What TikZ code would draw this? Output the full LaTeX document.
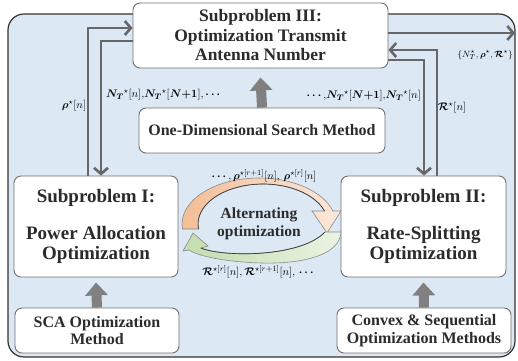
\documentclass[tikz,border=0pt]{standalone}
\usepackage{amsmath}
\usepackage{fontspec}
\setmainfont{Liberation Serif}
\usetikzlibrary{arrows.meta,calc}

\definecolor{bgblue}{HTML}{DDE8F5}
\definecolor{bgedge}{HTML}{333333}
\definecolor{edgegray}{HTML}{707070}
\definecolor{conngray}{HTML}{676767}
\definecolor{blockgray}{HTML}{808080}
\definecolor{txt}{HTML}{2B2B2B}
\definecolor{orangeA}{HTML}{F3BC95}
\definecolor{orangeB}{HTML}{FCE8DA}
\definecolor{greenA}{HTML}{C2DDAD}
\definecolor{greenB}{HTML}{EBF3E3}
\definecolor{loopedge}{HTML}{8A8A8A}
\definecolor{loopinner}{HTML}{3C3C3C}

% bold symbols used in the labels
\newcommand{\vrho}{\boldsymbol{\rho}}
\newcommand{\vR}{\boldsymbol{\mathcal{R}}}
\newcommand{\vN}{\boldsymbol{N_{T}}}

\begin{document}
\begin{tikzpicture}[x=1pt,y=-1pt,
  box/.style={draw=edgegray, line width=0.9pt, fill=white, rounded corners=7pt,
    align=center, text=txt, inner sep=0pt},
  conn/.style={draw=conngray, line width=2.6pt,
    -{Straight Barb[length=6pt,width=14pt]}},
  blockarrow/.style={draw=blockgray, line width=10pt,
    -{Triangle[length=13pt,width=22pt]}},
  lab/.style={text=black, inner sep=0pt, font=\fontsize{11}{12}\selectfont},
  bandedge/.style={draw=loopedge, line width=0.6pt},
  innerline/.style={draw=loopinner, line width=0.7pt}
]
\useasboundingbox (0,0) rectangle (518,360);

% background panel
\draw[fill=bgblue, draw=bgedge, line width=1.2pt, rounded corners=16pt]
  (8,14) rectangle (515,357);

% boxes
\node[box, minimum width=255pt, minimum height=65pt,
  font=\bfseries\fontsize{17.5}{19.5}\selectfont] (t3) at (260.5,35.5)
  {Subproblem III:\\Optimization Transmit\\Antenna Number};
\node[box, minimum width=246pt, minimum height=45pt,
  font=\bfseries\fontsize{16}{18}\selectfont] (od) at (262,130.5)
  {One-Dimensional Search Method};
\node[box, minimum width=164pt, minimum height=101pt,
  font=\bfseries\fontsize{19}{20}\selectfont] (s1) at (96,226.5)
  {Subproblem I:\\[17pt]Power Allocation\\Optimization};
\node[box, minimum width=165pt, minimum height=101pt,
  font=\bfseries\fontsize{19}{20}\selectfont] (s2) at (423.5,226.5)
  {Subproblem II:\\[17pt]Rate-Splitting\\Optimization};
\node[box, minimum width=164pt, minimum height=45pt,
  font=\bfseries\fontsize{16}{17.5}\selectfont] (sca) at (97,330.5)
  {SCA Optimization\\Method};
\node[box, minimum width=174pt, minimum height=45pt,
  font=\bfseries\fontsize{16}{17.5}\selectfont] (cvx) at (424,330.5)
  {Convex \& Sequential\\Optimization Methods};

% method arrows
\draw[blockarrow] (od.north) -- ($(t3.south)+(0,9)$);
\draw[blockarrow] (sca.north) -- ($(s1.south)+(0,5)$);
\draw[blockarrow] (cvx.north) -- ($(s2.south)+(0,5)$);

% bend points of the connectors
\coordinate (l1) at (88,28);
\coordinate (l2) at (101,41);
\coordinate (r0) at (515,33);
\coordinate (r1) at (437,50);
\coordinate (r2) at (424,60);

% connectors between the subproblems
\draw[conn] (s1.north -| l1) |- (t3.west |- l1);
\draw[conn] (t3.west |- l2) -| (s1.north -| l2);
\draw[conn] (t3.east |- r0) -- (r0);
\draw[conn] (s2.north -| r1) |- (t3.east |- r1);
\draw[conn] (t3.east |- r2) -| (s2.north -| r2);

% connector labels
\node[lab] (lrho) at (74,106) {$\vrho^{\star}[n]$};
\node[lab, anchor=west] (lnl) at (106,95)
  {$\vN^{\star}[n]{,}\vN^{\star}[\boldsymbol{N{+}1}],\boldsymbol{\cdots}$};
\node[lab, anchor=east] (lnr) at (421,96)
  {$\boldsymbol{\cdots}{,}\vN^{\star}[\boldsymbol{N{+}1}]{,}\vN^{\star}[n]$};
\node[lab] (lR) at (452,108) {$\vR^{\star}[n]$};
\node[lab, font=\fontsize{9.5}{11}\selectfont, anchor=east] (lout) at (513,55)
  {$\{N_{T}^{\star},\vrho^{\star},\vR^{\star}\}$};

% alternating optimization loop: upper (orange) arrow
\path[bandedge, left color=orangeA, right color=orangeB]
  (182.45,228.97) arc[start angle=173.8, end angle=343.6, x radius=77, y radius=46]
  -- (341,211) -- (327,233) -- (312,211) -- (324.5,211)
  arc[start angle=341, end angle=172.8, x radius=65, y radius=40] -- cycle;
\draw[innerline] (324.5,211)
  arc[start angle=341, end angle=172.8, x radius=65, y radius=40];

% lower (green) arrow
\path[bandedge, left color=greenA, right color=greenB]
  (341,232) .. controls (340,256) and (300,264) .. (262,263)
  .. controls (228,262) and (200,257) .. (189,250)
  -- (183,251) -- (193,233) -- (208,246) -- (201,248)
  .. controls (222,257) and (300,258) .. (325,232) -- cycle;
\draw[innerline] (201,248) .. controls (222,257) and (300,258) .. (325,232);

\node[font=\bfseries\fontsize{15.5}{18}\selectfont, align=center, text=txt]
  (alt) at (259,224) {Alternating\\optimization};

\node[lab] (ltop) at (264,176)
  {$\boldsymbol{\cdots}{,}\,\vrho^{\star[r+1]}[n],\,\vrho^{\star[r]}[n]$};
\node[lab] (lbot) at (259,272)
  {$\vR^{\star[r]}[n],\vR^{\star[r+1]}[n],\,\boldsymbol{\cdots}$};
\end{tikzpicture}
\end{document}
